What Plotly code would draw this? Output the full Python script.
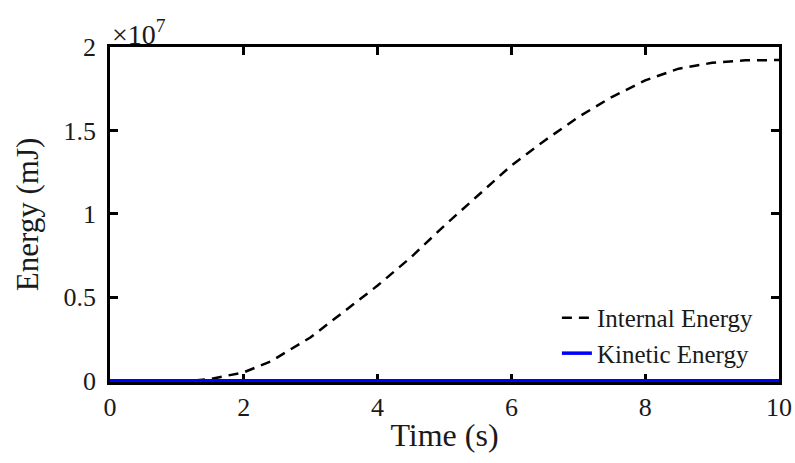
import plotly.graph_objects as go

time_s = [0, 0.5, 1.0, 1.3, 1.5, 1.75, 2.0, 2.4, 3.0, 3.5, 4.0, 4.5, 5.0, 5.5, 6.0, 6.5, 7.0, 7.5, 8.0, 8.5, 9.0, 9.5, 10.0]
internal_energy = [0, 0, 0, 0.02e6, 0.1e6, 0.28e6, 0.5e6, 1.15e6, 2.6e6, 4.15e6, 5.7e6, 7.4e6, 9.3e6, 11.1e6, 12.9e6, 14.4e6, 15.8e6, 17.0e6, 18.0e6, 18.7e6, 19.05e6, 19.2e6, 19.22e6]
kinetic_energy = [0] * len(time_s)

x_ticks = [0, 2, 4, 6, 8, 10]
y_ticks = [0, 0.5e7, 1.0e7, 1.5e7, 2.0e7]
y_tick_text = ["0", "0.5", "1", "1.5", "2"]

FONT = "Liberation Serif"
TXT = "#1a1a1a"

fig = go.Figure()
fig.add_trace(go.Scatter(x=time_s, y=internal_energy, mode="lines", name="Internal Energy",
                         line=dict(color="black", width=2.5, dash="10px,7px")))
fig.add_trace(go.Scatter(x=time_s, y=kinetic_energy, mode="lines", name="Kinetic Energy",
                         line=dict(color="#0000ff", width=3.5)))

axis_common = dict(showline=True, linecolor="black", linewidth=2.5, mirror="ticks",
                   ticks="inside", ticklen=8, tickwidth=2.5, tickcolor="black",
                   showgrid=False, zeroline=False, layer="below traces", automargin=False,
                   tickfont=dict(family=FONT, size=26, color=TXT))

fig.update_layout(
    width=795, height=463,
    margin=dict(l=110, r=16, t=47, b=81),
    paper_bgcolor="white", plot_bgcolor="white",
    font=dict(family=FONT, color=TXT),
    xaxis=dict(range=[0, 10], tickvals=x_ticks,
               title=dict(text="Time (s)", font=dict(size=32), standoff=3),
               **axis_common),
    yaxis=dict(range=[-8e4, 2e7], tickvals=y_ticks, ticktext=y_tick_text, ticklabelstandoff=6,
               title=dict(text="Energy (mJ)", font=dict(size=31), standoff=16), **axis_common),
    showlegend=True,
    legend=dict(x=0.668, y=0.26, xanchor="left", yanchor="top", bgcolor="rgba(0,0,0,0)",
                font=dict(family=FONT, size=25, color=TXT), tracegroupgap=0),
    annotations=[dict(text="×10<sup>7</sup>", xref="paper", yref="paper", x=0.0, y=1.0,
                      xanchor="left", yanchor="bottom", showarrow=False, yshift=-5,
                      font=dict(family=FONT, size=28, color=TXT))],
)

fig.write_html("out.html", config={"displayModeBar": False},
               post_script="document.body.style.margin='0';")
